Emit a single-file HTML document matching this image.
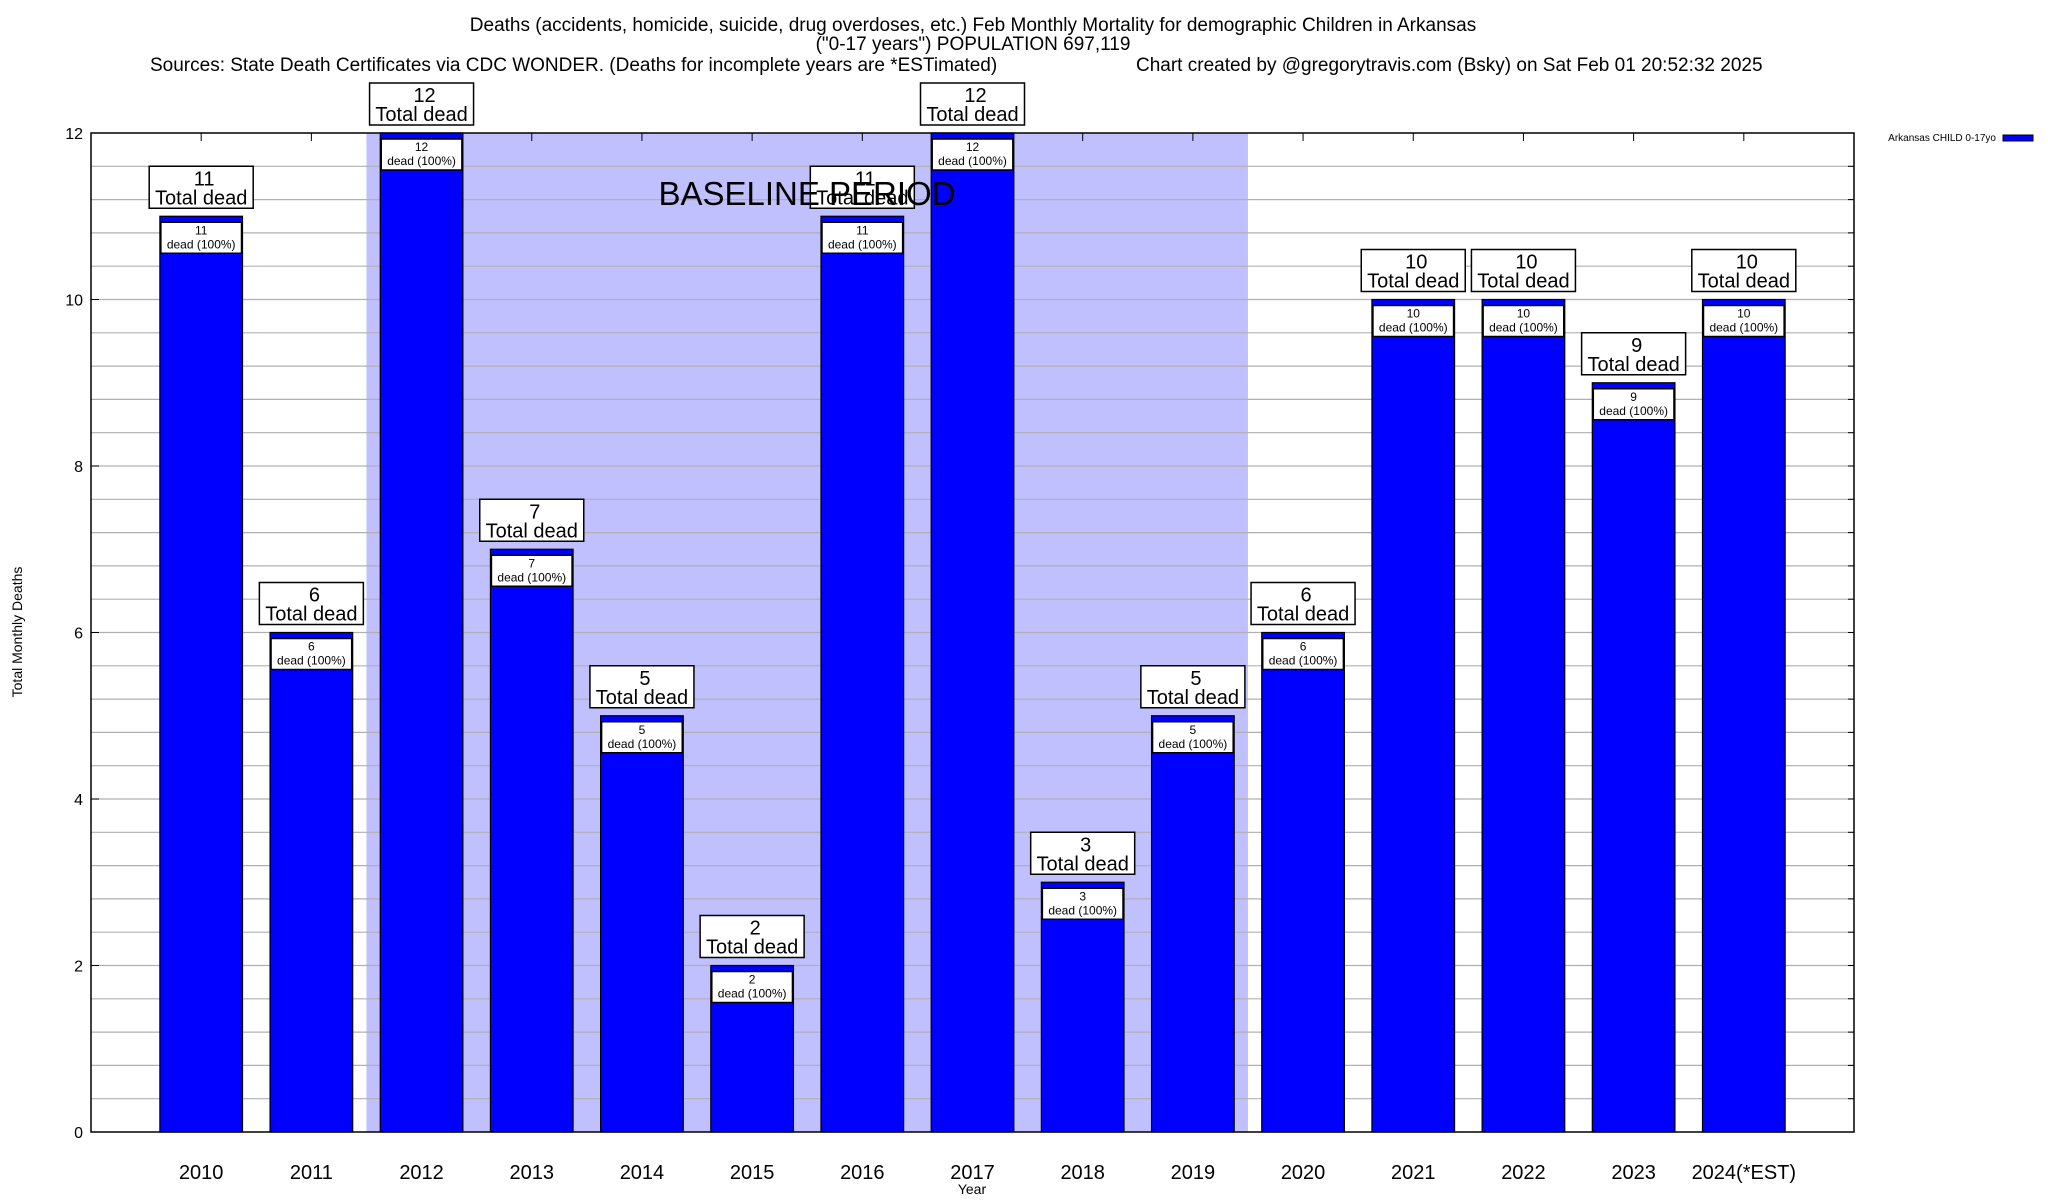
<!DOCTYPE html>
<html><head><meta charset="utf-8"><style>
body{margin:0;background:#fff;}
svg{display:block;font-family:"Liberation Sans",Arial,sans-serif;}
</style></head><body>
<svg id="chart" width="2048" height="1200" viewBox="0 0 2048 1200">
<text x="973" y="31" font-size="19" text-anchor="middle">Deaths (accidents, homicide, suicide, drug overdoses, etc.) Feb Monthly Mortality for demographic Children in Arkansas</text>
<text x="973" y="50" font-size="19" text-anchor="middle">("0-17 years") POPULATION 697,119</text>
<text x="150" y="71" font-size="19">Sources: State Death Certificates via CDC WONDER. (Deaths for incomplete years are *ESTimated)</text>
<text x="1136" y="71" font-size="19">Chart created by @gregorytravis.com (Bsky) on Sat Feb 01 20:52:32 2025</text>
<g id="plot"></g>
<text transform="translate(22,632) rotate(-90)" font-size="14" text-anchor="middle">Total Monthly Deaths</text>
<text x="972" y="1194" font-size="14" text-anchor="middle">Year</text>
<text x="1996" y="141" font-size="10" text-anchor="end">Arkansas CHILD 0-17yo</text>
<rect x="2003" y="135" width="30" height="6" fill="#0000ff" stroke="#000" stroke-width="1"/>
</svg>
<script>
const categories = ["2010","2011","2012","2013","2014","2015","2016","2017","2018","2019","2020","2021","2022","2023","2024(*EST)"];
const deaths = [11,6,12,7,5,2,11,12,3,5,6,10,10,9,10];
const yTicks = [0,2,4,6,8,10,12];
const baselineStart = 2, baselineEnd = 9;

const NS="http://www.w3.org/2000/svg";
const L=91,R=1854,T=133,B=1132;
const xMin=-1,xMax=15,yMin=0,yMax=12;
const xs=i=>L+(i-xMin)/(xMax-xMin)*(R-L);
const ys=v=>B-(v-yMin)/(yMax-yMin)*(B-T);
const g=document.getElementById('plot');
function mk(tag,attrs,txt){const e=document.createElementNS(NS,tag);for(const k in attrs)e.setAttribute(k,attrs[k]);if(txt!==undefined)e.textContent=txt;g.appendChild(e);return e;}

let e=mk('rect',{x:xs(baselineStart-0.5),y:T,width:xs(baselineEnd+0.5)-xs(baselineStart-0.5),height:B-T,fill:'#c0c0ff'});


for(let v=0.4;v<yMax-0.01;v+=0.4){
  e=mk('line',{x1:L,x2:R,y1:ys(v),y2:ys(v),stroke:'#b0b0b0','stroke-width':1.2});
  
  
  mk('line',{x1:R-6,x2:R,y1:ys(v),y2:ys(v),stroke:'#000'});
}
yTicks.forEach(v=>{
  e=mk('text',{x:83,y:ys(v)+6,'font-size':16,'text-anchor':'end'},String(v));
  
  
  mk('line',{x1:L,x2:L+8,y1:ys(v),y2:ys(v),stroke:'#000'});
});
const bw=0.75*(xs(1)-xs(0));
categories.forEach((c,i)=>{
  const cx=xs(i), v=deaths[i], top=ys(v);
  mk('line',{x1:cx,x2:cx,y1:T,y2:T+8,stroke:'#000'});
  e=mk('rect',{x:cx-bw/2,y:top,width:bw,height:B-top,fill:'#0000ff',stroke:'#000','stroke-width':1.2});
  
  
  e=mk('rect',{x:cx-bw/2+1,y:top+6,width:bw-2,height:31,fill:'#fff',stroke:'#000','stroke-width':1.5});
  
  
  mk('text',{x:cx,y:top+18,'font-size':12,'text-anchor':'middle'},String(v));
  mk('text',{x:cx,y:top+32,'font-size':12,'text-anchor':'middle'},'dead (100%)');
  e=mk('rect',{x:cx-52,y:top-50,width:104,height:42,fill:'#fff',stroke:'#000','stroke-width':1.5});
  
  
  mk('text',{x:cx+3,y:top-31,'font-size':20,'text-anchor':'middle'},String(v));
  mk('text',{x:cx,y:top-12,'font-size':20,'text-anchor':'middle'},'Total dead');
  e=mk('text',{x:cx,y:1179,'font-size':20,'text-anchor':'middle'},c);
  
  
});
e=mk('text',{x:807,y:205,'font-size':33,'text-anchor':'middle'},'BASELINE PERIOD');


e=mk('rect',{x:L,y:T,width:R-L,height:B-T,fill:'none',stroke:'#000','stroke-width':1.5});


</script>
</body></html>
